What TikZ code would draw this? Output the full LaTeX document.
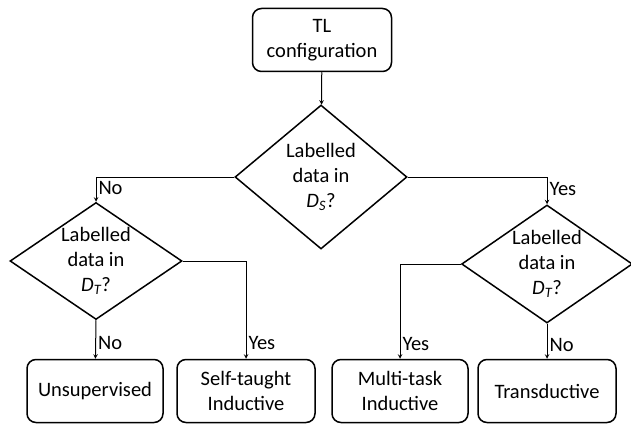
\documentclass[tikz,border=0pt]{standalone}
\usepackage{fontspec}
\setmainfont{Carlito}
\usetikzlibrary{shapes.geometric}
\begin{document}
\begin{tikzpicture}[x=1pt,y=-1pt]
        % Styles
        \tikzstyle{arrow} = [line width=1pt,->,>=stealth]
        \tikzstyle{boite} = [draw,line width=1.5pt,rounded corners=9pt,minimum height=63pt,align=center,font=\fontsize{20.5}{25}\selectfont]
        \tikzstyle{losange} = [draw,diamond,line width=1.5pt,inner sep=0pt,align=center,font=\fontsize{20.5}{25}\selectfont]
        \tikzstyle{etiquette} = [anchor=west,inner sep=2pt,font=\fontsize{20.5}{25}\selectfont]

        \useasboundingbox (0,0) rectangle (631,425);

        % Configuration de depart
        \node[boite,minimum width=139pt] (config) at (322,40) {TL\\configuration};

        % Questions
        \node[losange,minimum width=172pt,minimum height=144pt,aspect=1.19] (qs) at (321,177) {Labelled\\data in\\\textit{D\textsubscript{S}}?};
        \node[losange,minimum width=172pt,minimum height=117pt,aspect=1.5] (qtl) at (96,261) {Labelled\\data in\\\textit{D\textsubscript{T}}?};
        \node[losange,minimum width=170pt,minimum height=118pt,aspect=1.5] (qtr) at (547,264) {Labelled\\data in\\\textit{D\textsubscript{T}}?};

        % Resultats
        \node[boite,minimum width=136pt] (unsup) at (95,391) {Unsupervised};
        \node[boite,minimum width=138pt] (selftaught) at (246,391) {Self-taught\\Inductive};
        \node[boite,minimum width=136pt] (multitask) at (400,391) {Multi-task\\Inductive};
        \node[boite,minimum width=138pt] (transd) at (547,391) {Transductive};

        % Fleches
        \draw[arrow] (config) -- (qs);
        \draw[arrow] (qs.west) -| node[etiquette,pos=0.72] {No} (qtl.north);
        \draw[arrow] (qs.east) -| node[etiquette,pos=0.72] {Yes} (qtr.north);
        \draw[arrow] (qtl.south) -- node[etiquette,pos=0.6] {No} (unsup);
        \draw[arrow] (qtl.east) -| node[etiquette,pos=0.92] {Yes} (selftaught);
        \draw[arrow] (qtr.west) -| node[etiquette,pos=0.92] {Yes} (multitask);
        \draw[arrow] (qtr.south) -- node[etiquette,pos=0.6] {No} (transd);

\end{tikzpicture}
\end{document}
